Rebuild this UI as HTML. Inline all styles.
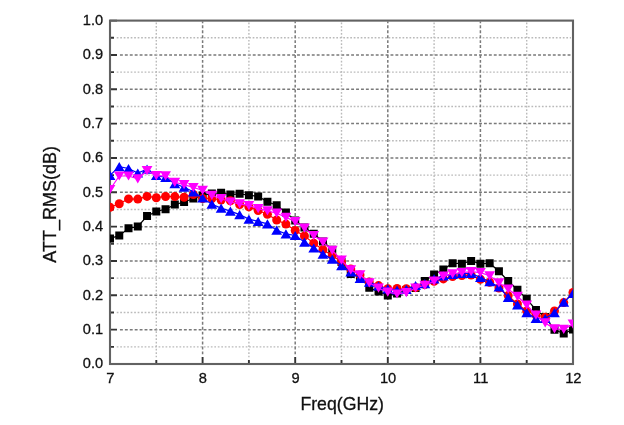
<!DOCTYPE html><html><head><meta charset="utf-8"><style>html,body{margin:0;padding:0;background:#fff;}svg{display:block;}#w{width:624px;height:425px;overflow:hidden;will-change:transform;}text{font-family:"Liberation Sans",sans-serif;fill:#111;stroke:#111;stroke-width:0.3px;}</style></head><body><div id="w">
<svg width="624" height="425" viewBox="0 0 624 425">
<defs><clipPath id="c"><rect x="110.00" y="20.60" width="463.00" height="343.40"/></clipPath></defs>
<line x1="119.95" y1="329.66" x2="572.00" y2="329.66" stroke="#7a7a7a" stroke-width="1.5" stroke-dasharray="2.9 2.019"/><line x1="119.95" y1="295.32" x2="572.00" y2="295.32" stroke="#7a7a7a" stroke-width="1.5" stroke-dasharray="2.9 2.019"/><line x1="119.95" y1="260.98" x2="572.00" y2="260.98" stroke="#7a7a7a" stroke-width="1.5" stroke-dasharray="2.9 2.019"/><line x1="119.95" y1="226.64" x2="572.00" y2="226.64" stroke="#7a7a7a" stroke-width="1.5" stroke-dasharray="2.9 2.019"/><line x1="119.95" y1="192.30" x2="572.00" y2="192.30" stroke="#7a7a7a" stroke-width="1.5" stroke-dasharray="2.9 2.019"/><line x1="119.95" y1="157.96" x2="572.00" y2="157.96" stroke="#7a7a7a" stroke-width="1.5" stroke-dasharray="2.9 2.019"/><line x1="119.95" y1="123.62" x2="572.00" y2="123.62" stroke="#7a7a7a" stroke-width="1.5" stroke-dasharray="2.9 2.019"/><line x1="119.95" y1="89.28" x2="572.00" y2="89.28" stroke="#7a7a7a" stroke-width="1.5" stroke-dasharray="2.9 2.019"/><line x1="119.95" y1="54.94" x2="572.00" y2="54.94" stroke="#7a7a7a" stroke-width="1.5" stroke-dasharray="2.9 2.019"/><line x1="116.75" y1="346.83" x2="571.00" y2="346.83" stroke="#bababa" stroke-width="1.4" stroke-dasharray="1.7 1.785"/><line x1="116.75" y1="312.49" x2="571.00" y2="312.49" stroke="#bababa" stroke-width="1.4" stroke-dasharray="1.7 1.785"/><line x1="116.75" y1="278.15" x2="571.00" y2="278.15" stroke="#bababa" stroke-width="1.4" stroke-dasharray="1.7 1.785"/><line x1="116.75" y1="243.81" x2="571.00" y2="243.81" stroke="#bababa" stroke-width="1.4" stroke-dasharray="1.7 1.785"/><line x1="116.75" y1="209.47" x2="571.00" y2="209.47" stroke="#bababa" stroke-width="1.4" stroke-dasharray="1.7 1.785"/><line x1="116.75" y1="175.13" x2="571.00" y2="175.13" stroke="#bababa" stroke-width="1.4" stroke-dasharray="1.7 1.785"/><line x1="116.75" y1="140.79" x2="571.00" y2="140.79" stroke="#bababa" stroke-width="1.4" stroke-dasharray="1.7 1.785"/><line x1="116.75" y1="106.45" x2="571.00" y2="106.45" stroke="#bababa" stroke-width="1.4" stroke-dasharray="1.7 1.785"/><line x1="116.75" y1="72.11" x2="571.00" y2="72.11" stroke="#bababa" stroke-width="1.4" stroke-dasharray="1.7 1.785"/><line x1="116.75" y1="37.77" x2="571.00" y2="37.77" stroke="#bababa" stroke-width="1.4" stroke-dasharray="1.7 1.785"/><line x1="202.60" y1="354.35" x2="202.60" y2="21.60" stroke="#7a7a7a" stroke-width="1.5" stroke-dasharray="2.9 2.041"/><line x1="295.20" y1="354.35" x2="295.20" y2="21.60" stroke="#7a7a7a" stroke-width="1.5" stroke-dasharray="2.9 2.041"/><line x1="387.80" y1="354.35" x2="387.80" y2="21.60" stroke="#7a7a7a" stroke-width="1.5" stroke-dasharray="2.9 2.041"/><line x1="480.40" y1="354.35" x2="480.40" y2="21.60" stroke="#7a7a7a" stroke-width="1.5" stroke-dasharray="2.9 2.041"/><line x1="156.30" y1="357.35" x2="156.30" y2="22.60" stroke="#bababa" stroke-width="1.4" stroke-dasharray="1.7 1.77"/><line x1="248.90" y1="357.35" x2="248.90" y2="22.60" stroke="#bababa" stroke-width="1.4" stroke-dasharray="1.7 1.77"/><line x1="341.50" y1="357.35" x2="341.50" y2="22.60" stroke="#bababa" stroke-width="1.4" stroke-dasharray="1.7 1.77"/><line x1="434.10" y1="357.35" x2="434.10" y2="22.60" stroke="#bababa" stroke-width="1.4" stroke-dasharray="1.7 1.77"/><line x1="526.70" y1="357.35" x2="526.70" y2="22.60" stroke="#bababa" stroke-width="1.4" stroke-dasharray="1.7 1.77"/>
<path d="M110.00 364.00H117.00M110.00 329.66H117.00M110.00 295.32H117.00M110.00 260.98H117.00M110.00 226.64H117.00M110.00 192.30H117.00M110.00 157.96H117.00M110.00 123.62H117.00M110.00 89.28H117.00M110.00 54.94H117.00M110.00 20.60H117.00M110.00 346.83H114.00M110.00 312.49H114.00M110.00 278.15H114.00M110.00 243.81H114.00M110.00 209.47H114.00M110.00 175.13H114.00M110.00 140.79H114.00M110.00 106.45H114.00M110.00 72.11H114.00M110.00 37.77H114.00M110.00 364.00V357.00M202.60 364.00V357.00M295.20 364.00V357.00M387.80 364.00V357.00M480.40 364.00V357.00M573.00 364.00V357.00M156.30 364.00V360.00M248.90 364.00V360.00M341.50 364.00V360.00M434.10 364.00V360.00M526.70 364.00V360.00" stroke="#333333" stroke-width="1.9" fill="none"/>
<rect x="110.00" y="20.60" width="463.00" height="343.40" fill="none" stroke="#626262" stroke-width="2.1"/>
<text transform="translate(103.1,368.25) scale(0.955,1)" text-anchor="end" font-size="15.3">0.0</text><text transform="translate(103.1,333.91) scale(0.955,1)" text-anchor="end" font-size="15.3">0.1</text><text transform="translate(103.1,299.57) scale(0.955,1)" text-anchor="end" font-size="15.3">0.2</text><text transform="translate(103.1,265.23) scale(0.955,1)" text-anchor="end" font-size="15.3">0.3</text><text transform="translate(103.1,230.89) scale(0.955,1)" text-anchor="end" font-size="15.3">0.4</text><text transform="translate(103.1,196.55) scale(0.955,1)" text-anchor="end" font-size="15.3">0.5</text><text transform="translate(103.1,162.21) scale(0.955,1)" text-anchor="end" font-size="15.3">0.6</text><text transform="translate(103.1,127.87) scale(0.955,1)" text-anchor="end" font-size="15.3">0.7</text><text transform="translate(103.1,93.53) scale(0.955,1)" text-anchor="end" font-size="15.3">0.8</text><text transform="translate(103.1,59.19) scale(0.955,1)" text-anchor="end" font-size="15.3">0.9</text><text transform="translate(103.1,24.85) scale(0.955,1)" text-anchor="end" font-size="15.3">1.0</text><text transform="translate(110.30,383.3) scale(0.96,1)" text-anchor="middle" font-size="15.3">7</text><text transform="translate(202.90,383.3) scale(0.96,1)" text-anchor="middle" font-size="15.3">8</text><text transform="translate(295.50,383.3) scale(0.96,1)" text-anchor="middle" font-size="15.3">9</text><text transform="translate(388.10,383.3) scale(0.96,1)" text-anchor="middle" font-size="15.3">10</text><text transform="translate(480.70,383.3) scale(0.96,1)" text-anchor="middle" font-size="15.3">11</text><text transform="translate(573.30,383.3) scale(0.96,1)" text-anchor="middle" font-size="15.3">12</text><text x="342.2" y="409.6" text-anchor="middle" font-size="17.7">Freq(GHz)</text><text transform="translate(55.8,204.3) rotate(-90)" text-anchor="middle" font-size="18">ATT_RMS(dB)</text>
<g clip-path="url(#c)"><polyline points="110.00,238.50 119.26,235.60 128.52,228.20 137.78,226.60 147.04,216.10 156.30,211.50 165.56,209.20 174.82,204.60 184.08,202.00 193.34,198.50 202.60,195.50 211.86,193.50 221.12,192.80 230.38,194.60 239.64,193.80 248.90,195.20 258.16,196.40 267.42,201.80 276.68,205.30 285.94,212.40 295.20,220.40 304.46,227.50 313.72,233.80 322.98,241.50 332.24,249.70 341.50,262.00 350.76,274.10 360.02,277.00 369.28,287.70 378.54,291.60 387.80,295.40 397.06,293.50 406.32,290.00 415.58,288.00 424.84,281.00 434.10,274.40 443.36,269.60 452.62,263.20 461.88,263.70 471.14,260.90 480.40,263.80 489.66,263.20 498.92,271.30 508.18,281.00 517.44,289.80 526.70,298.80 535.96,310.00 545.22,317.00 554.48,329.80 563.74,333.50 573.00,329.50" fill="none" stroke="#000000" stroke-width="1.2"/><path d="M106.00 234.50h8.00v8.00h-8.00zM115.26 231.60h8.00v8.00h-8.00zM124.52 224.20h8.00v8.00h-8.00zM133.78 222.60h8.00v8.00h-8.00zM143.04 212.10h8.00v8.00h-8.00zM152.30 207.50h8.00v8.00h-8.00zM161.56 205.20h8.00v8.00h-8.00zM170.82 200.60h8.00v8.00h-8.00zM180.08 198.00h8.00v8.00h-8.00zM189.34 194.50h8.00v8.00h-8.00zM198.60 191.50h8.00v8.00h-8.00zM207.86 189.50h8.00v8.00h-8.00zM217.12 188.80h8.00v8.00h-8.00zM226.38 190.60h8.00v8.00h-8.00zM235.64 189.80h8.00v8.00h-8.00zM244.90 191.20h8.00v8.00h-8.00zM254.16 192.40h8.00v8.00h-8.00zM263.42 197.80h8.00v8.00h-8.00zM272.68 201.30h8.00v8.00h-8.00zM281.94 208.40h8.00v8.00h-8.00zM291.20 216.40h8.00v8.00h-8.00zM300.46 223.50h8.00v8.00h-8.00zM309.72 229.80h8.00v8.00h-8.00zM318.98 237.50h8.00v8.00h-8.00zM328.24 245.70h8.00v8.00h-8.00zM337.50 258.00h8.00v8.00h-8.00zM346.76 270.10h8.00v8.00h-8.00zM356.02 273.00h8.00v8.00h-8.00zM365.28 283.70h8.00v8.00h-8.00zM374.54 287.60h8.00v8.00h-8.00zM383.80 291.40h8.00v8.00h-8.00zM393.06 289.50h8.00v8.00h-8.00zM402.32 286.00h8.00v8.00h-8.00zM411.58 284.00h8.00v8.00h-8.00zM420.84 277.00h8.00v8.00h-8.00zM430.10 270.40h8.00v8.00h-8.00zM439.36 265.60h8.00v8.00h-8.00zM448.62 259.20h8.00v8.00h-8.00zM457.88 259.70h8.00v8.00h-8.00zM467.14 256.90h8.00v8.00h-8.00zM476.40 259.80h8.00v8.00h-8.00zM485.66 259.20h8.00v8.00h-8.00zM494.92 267.30h8.00v8.00h-8.00zM504.18 277.00h8.00v8.00h-8.00zM513.44 285.80h8.00v8.00h-8.00zM522.70 294.80h8.00v8.00h-8.00zM531.96 306.00h8.00v8.00h-8.00zM541.22 313.00h8.00v8.00h-8.00zM550.48 325.80h8.00v8.00h-8.00zM559.74 329.50h8.00v8.00h-8.00zM569.00 325.50h8.00v8.00h-8.00z" fill="#000000"/></g>
<g clip-path="url(#c)"><polyline points="110.00,207.20 119.26,203.70 128.52,198.90 137.78,199.10 147.04,196.40 156.30,197.70 165.56,196.50 174.82,196.60 184.08,197.30 193.34,194.50 202.60,198.50 211.86,198.50 221.12,200.00 230.38,200.80 239.64,204.50 248.90,206.90 258.16,210.50 267.42,214.20 276.68,220.00 285.94,224.10 295.20,230.50 304.46,235.90 313.72,243.20 322.98,249.70 332.24,255.60 341.50,262.00 350.76,269.00 360.02,275.00 369.28,281.90 378.54,285.60 387.80,288.80 397.06,288.40 406.32,288.80 415.58,287.50 424.84,284.50 434.10,281.30 443.36,278.90 452.62,276.60 461.88,275.50 471.14,275.10 480.40,279.20 489.66,282.20 498.92,288.00 508.18,295.60 517.44,304.00 526.70,310.90 535.96,315.00 545.22,317.20 554.48,311.00 563.74,302.60 573.00,292.40" fill="none" stroke="#ff0000" stroke-width="1.2"/><circle cx="110.00" cy="207.20" r="4.5" fill="#ff0000"/><circle cx="119.26" cy="203.70" r="4.5" fill="#ff0000"/><circle cx="128.52" cy="198.90" r="4.5" fill="#ff0000"/><circle cx="137.78" cy="199.10" r="4.5" fill="#ff0000"/><circle cx="147.04" cy="196.40" r="4.5" fill="#ff0000"/><circle cx="156.30" cy="197.70" r="4.5" fill="#ff0000"/><circle cx="165.56" cy="196.50" r="4.5" fill="#ff0000"/><circle cx="174.82" cy="196.60" r="4.5" fill="#ff0000"/><circle cx="184.08" cy="197.30" r="4.5" fill="#ff0000"/><circle cx="193.34" cy="194.50" r="4.5" fill="#ff0000"/><circle cx="202.60" cy="198.50" r="4.5" fill="#ff0000"/><circle cx="211.86" cy="198.50" r="4.5" fill="#ff0000"/><circle cx="221.12" cy="200.00" r="4.5" fill="#ff0000"/><circle cx="230.38" cy="200.80" r="4.5" fill="#ff0000"/><circle cx="239.64" cy="204.50" r="4.5" fill="#ff0000"/><circle cx="248.90" cy="206.90" r="4.5" fill="#ff0000"/><circle cx="258.16" cy="210.50" r="4.5" fill="#ff0000"/><circle cx="267.42" cy="214.20" r="4.5" fill="#ff0000"/><circle cx="276.68" cy="220.00" r="4.5" fill="#ff0000"/><circle cx="285.94" cy="224.10" r="4.5" fill="#ff0000"/><circle cx="295.20" cy="230.50" r="4.5" fill="#ff0000"/><circle cx="304.46" cy="235.90" r="4.5" fill="#ff0000"/><circle cx="313.72" cy="243.20" r="4.5" fill="#ff0000"/><circle cx="322.98" cy="249.70" r="4.5" fill="#ff0000"/><circle cx="332.24" cy="255.60" r="4.5" fill="#ff0000"/><circle cx="341.50" cy="262.00" r="4.5" fill="#ff0000"/><circle cx="350.76" cy="269.00" r="4.5" fill="#ff0000"/><circle cx="360.02" cy="275.00" r="4.5" fill="#ff0000"/><circle cx="369.28" cy="281.90" r="4.5" fill="#ff0000"/><circle cx="378.54" cy="285.60" r="4.5" fill="#ff0000"/><circle cx="387.80" cy="288.80" r="4.5" fill="#ff0000"/><circle cx="397.06" cy="288.40" r="4.5" fill="#ff0000"/><circle cx="406.32" cy="288.80" r="4.5" fill="#ff0000"/><circle cx="415.58" cy="287.50" r="4.5" fill="#ff0000"/><circle cx="424.84" cy="284.50" r="4.5" fill="#ff0000"/><circle cx="434.10" cy="281.30" r="4.5" fill="#ff0000"/><circle cx="443.36" cy="278.90" r="4.5" fill="#ff0000"/><circle cx="452.62" cy="276.60" r="4.5" fill="#ff0000"/><circle cx="461.88" cy="275.50" r="4.5" fill="#ff0000"/><circle cx="471.14" cy="275.10" r="4.5" fill="#ff0000"/><circle cx="480.40" cy="279.20" r="4.5" fill="#ff0000"/><circle cx="489.66" cy="282.20" r="4.5" fill="#ff0000"/><circle cx="498.92" cy="288.00" r="4.5" fill="#ff0000"/><circle cx="508.18" cy="295.60" r="4.5" fill="#ff0000"/><circle cx="517.44" cy="304.00" r="4.5" fill="#ff0000"/><circle cx="526.70" cy="310.90" r="4.5" fill="#ff0000"/><circle cx="535.96" cy="315.00" r="4.5" fill="#ff0000"/><circle cx="545.22" cy="317.20" r="4.5" fill="#ff0000"/><circle cx="554.48" cy="311.00" r="4.5" fill="#ff0000"/><circle cx="563.74" cy="302.60" r="4.5" fill="#ff0000"/><circle cx="573.00" cy="292.40" r="4.5" fill="#ff0000"/></g>
<g clip-path="url(#c)"><polyline points="110.00,175.30 119.26,166.60 128.52,168.50 137.78,173.00 147.04,169.20 156.30,175.50 165.56,177.50 174.82,183.60 184.08,187.20 193.34,191.80 202.60,198.00 211.86,204.20 221.12,208.10 230.38,211.10 239.64,214.60 248.90,219.10 258.16,221.30 267.42,223.80 276.68,230.20 285.94,233.80 295.20,235.50 304.46,242.10 313.72,248.00 322.98,254.10 332.24,259.10 341.50,265.70 350.76,271.80 360.02,278.30 369.28,282.10 378.54,286.00 387.80,288.80 397.06,290.00 406.32,289.30 415.58,285.50 424.84,283.70 434.10,278.80 443.36,275.90 452.62,274.40 461.88,273.30 471.14,273.50 480.40,277.40 489.66,281.70 498.92,287.00 508.18,297.40 517.44,304.80 526.70,312.70 535.96,318.40 545.22,318.50 554.48,312.60 563.74,302.20 573.00,293.40" fill="none" stroke="#0000ff" stroke-width="1.2"/><path d="M110.00 170.70L115.40 179.90L104.60 179.90zM119.26 162.00L124.66 171.20L113.86 171.20zM128.52 163.90L133.92 173.10L123.12 173.10zM137.78 168.40L143.18 177.60L132.38 177.60zM147.04 164.60L152.44 173.80L141.64 173.80zM156.30 170.90L161.70 180.10L150.90 180.10zM165.56 172.90L170.96 182.10L160.16 182.10zM174.82 179.00L180.22 188.20L169.42 188.20zM184.08 182.60L189.48 191.80L178.68 191.80zM193.34 187.20L198.74 196.40L187.94 196.40zM202.60 193.40L208.00 202.60L197.20 202.60zM211.86 199.60L217.26 208.80L206.46 208.80zM221.12 203.50L226.52 212.70L215.72 212.70zM230.38 206.50L235.78 215.70L224.98 215.70zM239.64 210.00L245.04 219.20L234.24 219.20zM248.90 214.50L254.30 223.70L243.50 223.70zM258.16 216.70L263.56 225.90L252.76 225.90zM267.42 219.20L272.82 228.40L262.02 228.40zM276.68 225.60L282.08 234.80L271.28 234.80zM285.94 229.20L291.34 238.40L280.54 238.40zM295.20 230.90L300.60 240.10L289.80 240.10zM304.46 237.50L309.86 246.70L299.06 246.70zM313.72 243.40L319.12 252.60L308.32 252.60zM322.98 249.50L328.38 258.70L317.58 258.70zM332.24 254.50L337.64 263.70L326.84 263.70zM341.50 261.10L346.90 270.30L336.10 270.30zM350.76 267.20L356.16 276.40L345.36 276.40zM360.02 273.70L365.42 282.90L354.62 282.90zM369.28 277.50L374.68 286.70L363.88 286.70zM378.54 281.40L383.94 290.60L373.14 290.60zM387.80 284.20L393.20 293.40L382.40 293.40zM397.06 285.40L402.46 294.60L391.66 294.60zM406.32 284.70L411.72 293.90L400.92 293.90zM415.58 280.90L420.98 290.10L410.18 290.10zM424.84 279.10L430.24 288.30L419.44 288.30zM434.10 274.20L439.50 283.40L428.70 283.40zM443.36 271.30L448.76 280.50L437.96 280.50zM452.62 269.80L458.02 279.00L447.22 279.00zM461.88 268.70L467.28 277.90L456.48 277.90zM471.14 268.90L476.54 278.10L465.74 278.10zM480.40 272.80L485.80 282.00L475.00 282.00zM489.66 277.10L495.06 286.30L484.26 286.30zM498.92 282.40L504.32 291.60L493.52 291.60zM508.18 292.80L513.58 302.00L502.78 302.00zM517.44 300.20L522.84 309.40L512.04 309.40zM526.70 308.10L532.10 317.30L521.30 317.30zM535.96 313.80L541.36 323.00L530.56 323.00zM545.22 313.90L550.62 323.10L539.82 323.10zM554.48 308.00L559.88 317.20L549.08 317.20zM563.74 297.60L569.14 306.80L558.34 306.80zM573.00 288.80L578.40 298.00L567.60 298.00z" fill="#0000ff"/></g>
<g clip-path="url(#c)"><polyline points="110.00,189.50 119.26,176.00 128.52,176.00 137.78,178.90 147.04,170.70 156.30,175.60 165.56,175.80 174.82,182.30 184.08,184.60 193.34,187.50 202.60,190.30 211.86,195.40 221.12,198.70 230.38,202.00 239.64,203.80 248.90,205.60 258.16,208.60 267.42,210.80 276.68,213.20 285.94,217.30 295.20,221.60 304.46,228.20 313.72,235.60 322.98,242.10 332.24,250.30 341.50,260.20 350.76,269.90 360.02,274.80 369.28,282.80 378.54,288.20 387.80,292.10 397.06,294.00 406.32,292.60 415.58,288.00 424.84,285.30 434.10,281.20 443.36,276.10 452.62,273.80 461.88,272.60 471.14,271.70 480.40,272.60 489.66,275.80 498.92,282.80 508.18,289.00 517.44,296.30 526.70,305.00 535.96,315.20 545.22,322.90 554.48,328.80 563.74,329.30 573.00,324.20" fill="none" stroke="#ff00ff" stroke-width="1.2"/><path d="M110.00 194.10L115.40 184.90L104.60 184.90zM119.26 180.60L124.66 171.40L113.86 171.40zM128.52 180.60L133.92 171.40L123.12 171.40zM137.78 183.50L143.18 174.30L132.38 174.30zM147.04 175.30L152.44 166.10L141.64 166.10zM156.30 180.20L161.70 171.00L150.90 171.00zM165.56 180.40L170.96 171.20L160.16 171.20zM174.82 186.90L180.22 177.70L169.42 177.70zM184.08 189.20L189.48 180.00L178.68 180.00zM193.34 192.10L198.74 182.90L187.94 182.90zM202.60 194.90L208.00 185.70L197.20 185.70zM211.86 200.00L217.26 190.80L206.46 190.80zM221.12 203.30L226.52 194.10L215.72 194.10zM230.38 206.60L235.78 197.40L224.98 197.40zM239.64 208.40L245.04 199.20L234.24 199.20zM248.90 210.20L254.30 201.00L243.50 201.00zM258.16 213.20L263.56 204.00L252.76 204.00zM267.42 215.40L272.82 206.20L262.02 206.20zM276.68 217.80L282.08 208.60L271.28 208.60zM285.94 221.90L291.34 212.70L280.54 212.70zM295.20 226.20L300.60 217.00L289.80 217.00zM304.46 232.80L309.86 223.60L299.06 223.60zM313.72 240.20L319.12 231.00L308.32 231.00zM322.98 246.70L328.38 237.50L317.58 237.50zM332.24 254.90L337.64 245.70L326.84 245.70zM341.50 264.80L346.90 255.60L336.10 255.60zM350.76 274.50L356.16 265.30L345.36 265.30zM360.02 279.40L365.42 270.20L354.62 270.20zM369.28 287.40L374.68 278.20L363.88 278.20zM378.54 292.80L383.94 283.60L373.14 283.60zM387.80 296.70L393.20 287.50L382.40 287.50zM397.06 298.60L402.46 289.40L391.66 289.40zM406.32 297.20L411.72 288.00L400.92 288.00zM415.58 292.60L420.98 283.40L410.18 283.40zM424.84 289.90L430.24 280.70L419.44 280.70zM434.10 285.80L439.50 276.60L428.70 276.60zM443.36 280.70L448.76 271.50L437.96 271.50zM452.62 278.40L458.02 269.20L447.22 269.20zM461.88 277.20L467.28 268.00L456.48 268.00zM471.14 276.30L476.54 267.10L465.74 267.10zM480.40 277.20L485.80 268.00L475.00 268.00zM489.66 280.40L495.06 271.20L484.26 271.20zM498.92 287.40L504.32 278.20L493.52 278.20zM508.18 293.60L513.58 284.40L502.78 284.40zM517.44 300.90L522.84 291.70L512.04 291.70zM526.70 309.60L532.10 300.40L521.30 300.40zM535.96 319.80L541.36 310.60L530.56 310.60zM545.22 327.50L550.62 318.30L539.82 318.30zM554.48 333.40L559.88 324.20L549.08 324.20zM563.74 333.90L569.14 324.70L558.34 324.70zM573.00 328.80L578.40 319.60L567.60 319.60z" fill="#ff00ff"/></g>
</svg></div></body></html>
